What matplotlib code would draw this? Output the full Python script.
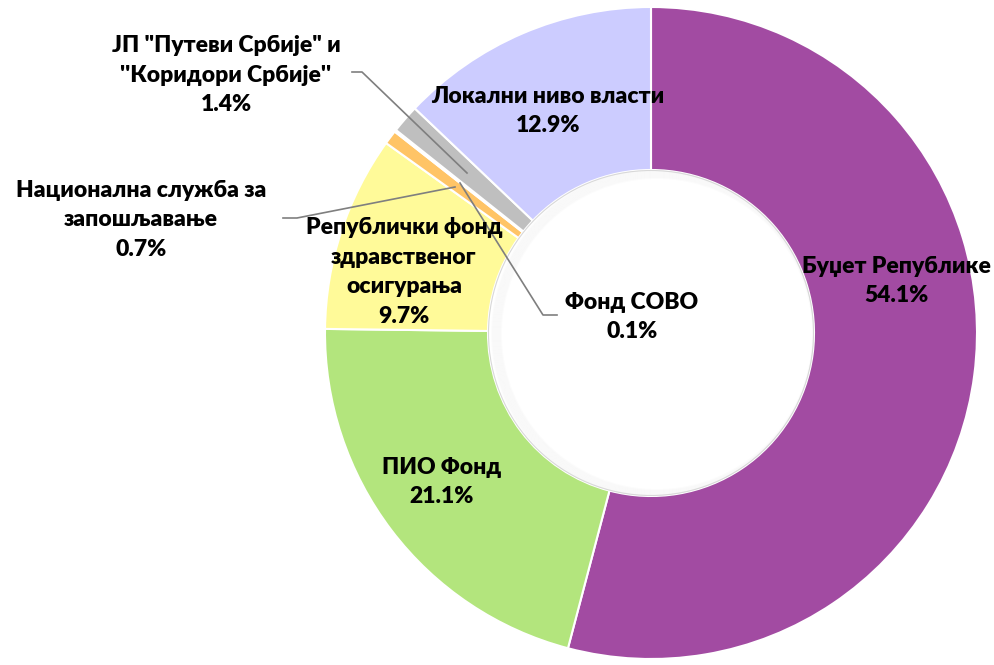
import matplotlib.pyplot as plt

# shares of total, clockwise from 12 o'clock
names = ['Буџет Републике', 'ПИО Фонд', 'Републички фонд\nздравственог\nосигурања',
         'Национална служба за\nзапошљавање', 'Фонд СОВО',
         'ЈП "Путеви Србије" и\n\'\'Коридори Србије\'\'', 'Локални ниво власти']
shares = [54.1, 21.1, 9.7, 0.7, 0.1, 1.4, 12.9]
colors = ['#A24BA2', '#B3E57D', '#FFFA99', '#FFC466', '#F2F2F2', '#BFBFBF', '#CCCCFF']

plt.rcParams['font.family'] = ['Lato', 'DejaVu Sans']

fig = plt.figure(figsize=(9.95, 6.65), dpi=100)
ax = fig.add_axes([0, 0, 1, 1])

cx, cy, r = 651, 665 - 333, 326
ax.pie(shares, colors=colors, startangle=90, counterclock=False,
       center=(cx, cy), radius=r, frame=True,
       wedgeprops=dict(width=r * 0.5, edgecolor='white', linewidth=1.5))
ax.set_xlim(0, 995)
ax.set_ylim(0, 665)
ax.set_aspect('equal')
ax.axis('off')

# inner shadow of the hole, stronger on the left side
hole = plt.Circle((cx, cy), r * 0.5, transform=ax.transData, fill=False, lw=0)
ax.add_patch(hole)
for i in range(10):
    s = plt.Circle((cx + 6, cy - 1), r * 0.5 + 2 - i * 1.0, fill=False,
                   edgecolor='black', alpha=0.012, linewidth=1.5)
    ax.add_patch(s)
    s.set_clip_path(hole)
ax.add_patch(plt.Circle((cx, cy), r * 0.5 - 0.5, fill=False, edgecolor='#D8D8D8', lw=0.8))

# label positions (image pixels, y from top)
label_xy = [(896, 281), (442, 482), (404, 272), (141, 220), (632, 317), (226, 75), (548, 111)]
for name, val, (x, y) in zip(names, shares, label_xy):
    ax.text(x, 665 - y, f'{name}\n{val:.1f}%', ha='center', va='center',
            fontsize=16.5, fontweight='heavy', linespacing=1.5, color='black')

# leader lines
lc = '#7F7F7F'
ax.plot([352, 362, 467], [665 - 72, 665 - 72, 665 - 173], color=lc, lw=1.2)
ax.plot([283, 297, 455], [665 - 218, 665 - 218, 665 - 187], color=lc, lw=1.2)
ax.plot([460, 543, 557], [665 - 183, 665 - 315, 665 - 315], color=lc, lw=1.2)

plt.savefig('out.png', dpi=100)
